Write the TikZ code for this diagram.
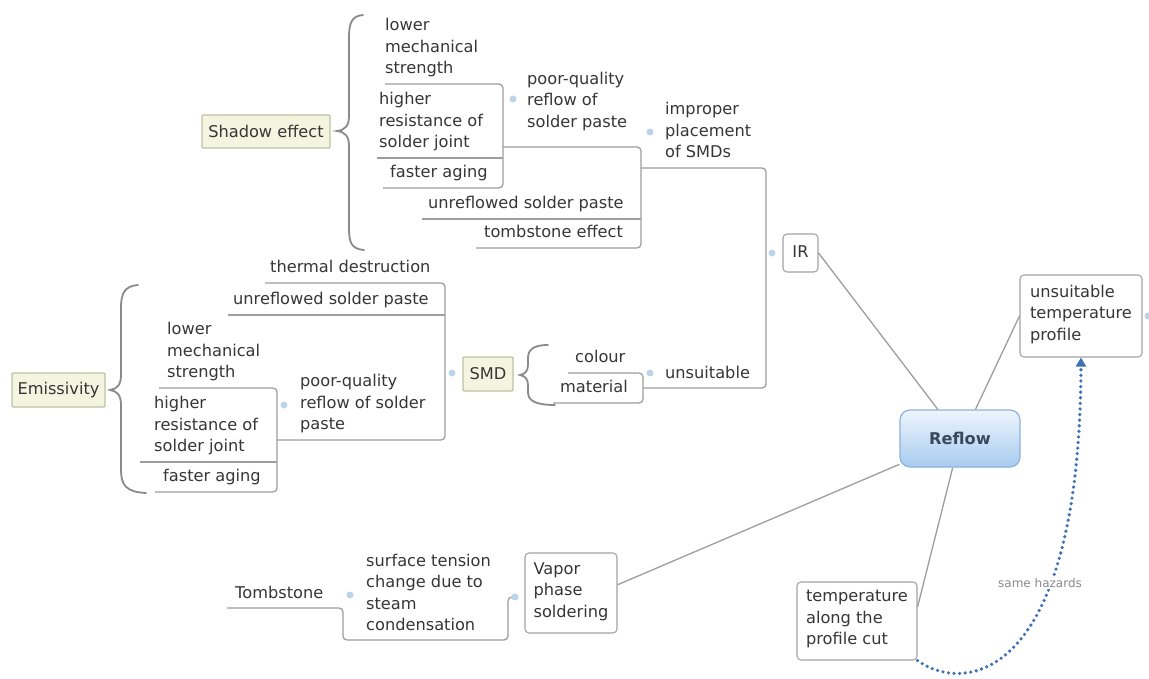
\documentclass[tikz,border=0pt]{standalone}
\usepackage{fontspec}
\setmainfont{DejaVu Sans}
\usetikzlibrary{arrows.meta}

\definecolor{ink}{HTML}{363636}
\definecolor{linkgray}{HTML}{9E9E9E}
\definecolor{boxline}{HTML}{A4A4A4}
\definecolor{summfill}{HTML}{F3F5E1}
\definecolor{summline}{HTML}{BEC2A0}
\definecolor{knobblue}{HTML}{BCD3EA}
\definecolor{bracegray}{HTML}{8A8A8A}
\definecolor{reflowtop}{HTML}{EDF5FD}
\definecolor{reflowbot}{HTML}{A8CBEF}
\definecolor{reflowline}{HTML}{8DB3DA}
\definecolor{reflowink}{HTML}{38495C}
\definecolor{hazblue}{HTML}{3D72B4}
\definecolor{hazgray}{HTML}{8A8A8A}

\tikzset{
  bodyfont/.style={font=\fontsize{16.2}{21.5}\selectfont},
  lbl/.style={bodyfont, text=ink, inner sep=0pt, align=left, anchor=south west,
    execute at begin node=\strut, execute at end node=\strut},
  topic/.style={bodyfont, text=ink, draw=boxline, line width=1.1pt, rounded corners=4pt,
    fill=white, inner sep=0pt, align=left,
    execute at begin node=\strut, execute at end node=\strut},
  summ/.style={bodyfont, text=ink, draw=summline, fill=summfill, line width=1.1pt,
    rounded corners=1pt, inner sep=0pt},
  central/.style={draw=reflowline, line width=1.2pt, rounded corners=10pt,
    top color=reflowtop, bottom color=reflowbot, text=reflowink,
    font=\bfseries\fontsize{16.2}{20}\selectfont, minimum width=120pt, minimum height=57pt},
  link/.style={draw=linkgray, line width=1.3pt, rounded corners=4pt},
  spoke/.style={draw=linkgray, line width=1.3pt},
  knob/.style={circle, fill=knobblue, inner sep=0pt, minimum size=7pt},
  curly/.style={draw=bracegray, line width=1.8pt, line cap=round},
  hazard/.style={draw=hazblue, line width=3.6pt, line cap=round, dash pattern=on 0pt off 5.6pt,
    -{Triangle[length=9pt,width=10pt]}},
  hazlabel/.style={font=\fontsize{12}{14}\selectfont, text=hazgray, fill=white, inner sep=1.5pt},
}

\begin{document}
\begin{tikzpicture}[x=1pt,y=-1pt]
\fill[white] (0,0) rectangle (1149,679);
\useasboundingbox (0,0) rectangle (1149,679);

% ---------- tree lines (underlines and spines) ----------
% upper cluster
\draw[link] (385,84) -- (503,84) -- (503,188) -- (383,188);
\draw[link] (377,158) -- (503,158);
\draw[link] (503,147) -- (641,147) -- (641,248) -- (476,248);
\draw[link] (422,219) -- (641,219);
\draw[link] (641,168) -- (766,168) -- (766,388) -- (643,388);
\draw[link] (568,373) -- (643,373) -- (643,403) -- (553,403);
% middle-left cluster
\draw[link] (159,388) -- (277,388) -- (277,492) -- (155,492);
\draw[link] (140,462) -- (277,462);
\draw[link] (265,283) -- (445,283) -- (445,440) -- (277,440);
\draw[link] (228,315) -- (445,315);
% lower cluster
\draw[link] (227,608) -- (343,608) -- (343,640) -- (508,640) -- (508,597) -- (515,597);

% ---------- summary braces ----------
\draw[curly] (363,15) .. controls (351,16) and (349,24) .. (349,38) -- (349,116)
  .. controls (349,126) and (345,130) .. (337,131)
  .. controls (345,132) and (349,136) .. (349,146) -- (349,228)
  .. controls (349,242) and (351,249) .. (364,250);
\draw[curly] (138,285) .. controls (124,286) and (121,294) .. (121,308) -- (121,375)
  .. controls (121,385) and (117,389) .. (110,390)
  .. controls (117,391) and (121,395) .. (121,405) -- (121,470)
  .. controls (121,485) and (126,492) .. (146,493);
\draw[curly] (548,345) .. controls (533,345) and (528,350) .. (528,358) -- (528,365)
  .. controls (528,371) and (525,374) .. (520,375)
  .. controls (525,376) and (528,379) .. (528,385) -- (528,392)
  .. controls (528,400) and (534,405) .. (555,405);

% ---------- boxed topics ----------
\node[summ, minimum width=128pt, minimum height=33pt] (shadow) at (266,131.5) {Shadow effect};
\node[summ, minimum width=93pt, minimum height=34pt] (emiss) at (58.5,390) {Emissivity};
\node[summ, minimum width=50pt, minimum height=34pt] (smd) at (488,374) {SMD};

\node[topic, minimum width=35pt, minimum height=38pt] (ir) at (800.5,253) {IR};
\node[topic, minimum width=122pt, minimum height=82pt] (utp) at (1081,316) {unsuitable\\temperature\\profile};
\node[topic, minimum width=120pt, minimum height=78pt] (tapc) at (857,621) {temperature\\along the\\profile cut};
\node[topic, minimum width=92pt, minimum height=80pt] (vps) at (571,593) {Vapor\\phase\\soldering};
\node[central] (reflow) at (960,438.5) {Reflow};

% ---------- spokes to the central topic ----------
\draw[spoke] (ir.east) -- (reflow);
\draw[spoke] (reflow.62) -- (utp.west);
\draw[spoke] (vps.10) -- (reflow);
\draw[spoke] (tapc.13) -- (reflow);

% ---------- plain topics ----------
\node[lbl] (lowA) at (385,80.5) {lower\\mechanical\\strength};
\node[lbl] (higherA) at (379,154.5) {higher\\resistance of\\solder joint};
\node[lbl] (fasterA) at (390,184.5) {faster aging};
\node[lbl] (poorA) at (527,134) {poor-quality\\reflow of\\solder paste};
\node[lbl] (unreflA) at (428,215.5) {unreflowed solder paste};
\node[lbl] (tombA) at (484,244.5) {tombstone effect};
\node[lbl] (improper) at (665,164.5) {improper\\placement\\of SMDs};

\node[lbl] (thermal) at (270,279.5) {thermal destruction};
\node[lbl] (unreflB) at (233,311.5) {unreflowed solder paste};
\node[lbl] (lowB) at (167,384.5) {lower\\mechanical\\strength};
\node[lbl] (higherB) at (154,458.5) {higher\\resistance of\\solder joint};
\node[lbl] (fasterB) at (163,488.5) {faster aging};
\node[lbl] (poorB) at (300,436.5) {poor-quality\\reflow of solder\\paste};
\node[lbl] (colour) at (575,369.5) {colour};
\node[lbl] (material) at (560,399.5) {material};
\node[lbl] (unsuit) at (665,385) {unsuitable};

\node[lbl] (surface) at (366,637.5) {surface tension\\change due to\\steam\\condensation};
\node[lbl] (tombC) at (235,605) {Tombstone};

% ---------- fold knobs ----------
\node[knob] (kPoorA) at (513,99) {};
\node[knob] (kImproper) at (650,132) {};
\node[knob] (kIR) at (772,253) {};
\node[knob] (kSMD) at (452,373) {};
\node[knob] (kUnsuit) at (650,373) {};
\node[knob] (kPoorB) at (284,405) {};
\node[knob] (kSurface) at (350,595) {};
\node[knob] (kVapor) at (515,597) {};
\node[knob] (kUtp) at (1148,316) {};

% ---------- relationship between the two profile topics ----------
\draw[hazard] (tapc.south east) .. controls (965,695) and (1080,680) .. (utp.south);
\node[hazlabel] (same) at (1040,583) {same hazards};
\end{tikzpicture}
\end{document}
